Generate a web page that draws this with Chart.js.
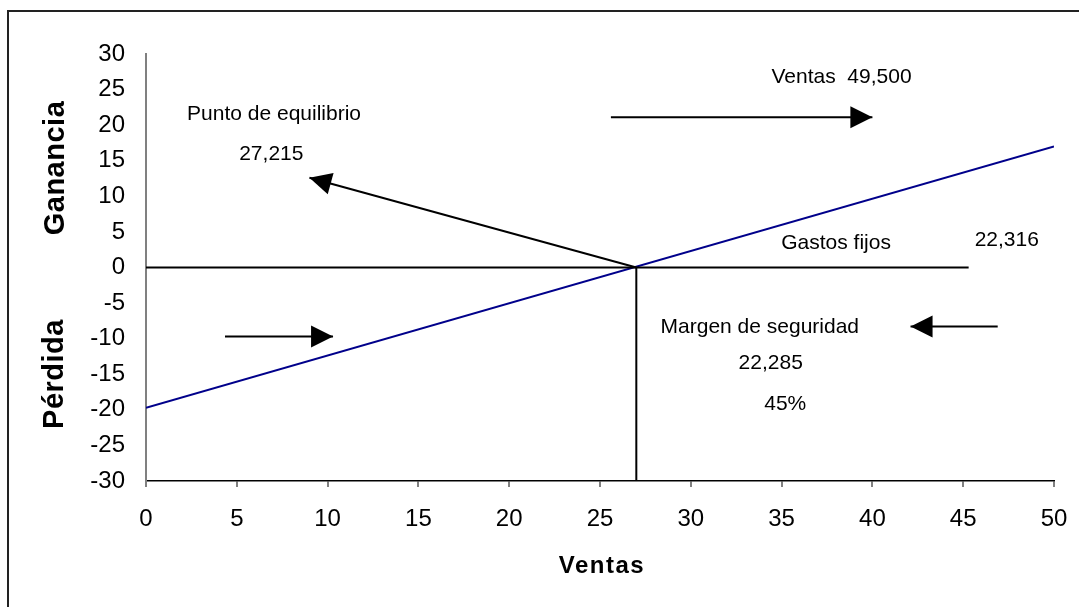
<!DOCTYPE html>
<html>
<head>
<meta charset="utf-8">
<script src="https://cdn.jsdelivr.net/npm/chart.js@4"></script>
<style>
  html, body { margin:0; padding:0; background:#fff; }
  #wrap { width:1079px; height:607px; position:relative; }
</style>
</head>
<body>
<div id="wrap"><canvas id="chart" width="1079" height="607"></canvas></div>
<script>
// datos
const ventasX = [0, 50];
const resultadoY = [-19.7, 17.0];
const fijosX = [0, 45.3];
const fijosY = [0, 0];
const equilibrioX = [27, 27];
const equilibrioY = [0, -30];

// flechas (inicio -> punta)
const flechaEquilibrioX = [27, 9.0];
const flechaEquilibrioY = [0, 12.6];
const flechaVentasX = [25.6, 40.0];
const flechaVentasY = [21.1, 21.1];
const flechaIzqX = [4.35, 10.3];
const flechaIzqY = [-9.7, -9.7];
const flechaDerX = [46.9, 42.1];
const flechaDerY = [-8.3, -8.3];

// textos
const notasTexto = ['Punto de equilibrio', '27,215', 'Ventas  49,500', 'Gastos fijos', '22,316',
                    'Margen de seguridad', '22,285', '45%'];
const notasX = [7.05, 6.9, 38.3, 38.0, 47.4, 33.8, 34.4, 35.2];
const notasY = [21.5, 15.9, 26.7, 3.4, 3.8, -8.4, -13.5, -19.2];

const yTicks = [30, 25, 20, 15, 10, 5, 0, -5, -10, -15, -20, -25, -30];
const xTicks = [0, 5, 10, 15, 20, 25, 30, 35, 40, 45, 50];

const FONT = "'Liberation Sans', Arial, sans-serif";

function pts(xs, ys){
    return xs.map((x,i)=>({x:x, y:ys[i]}))
}
function linea(xs, ys, color, flecha){
    return {
        data: pts(xs, ys),
        showLine: true,
        borderColor: color,
        backgroundColor: color,
        borderWidth: 2,
        pointRadius: 0,
        tension: 0,
        flecha: !!flecha
    }
}

const marco = {
    id: 'marco',
    afterDraw(chart){
        const c = chart.ctx
        c.save()
        c.strokeStyle = '#222'
        c.lineWidth = 2
        c.beginPath()
        c.moveTo(8, 607); c.lineTo(8, 11); c.lineTo(1079, 11)
        c.stroke()
        c.restore()
    }
}

const flechas = {
    id: 'flechas',
    afterDatasetsDraw(chart){
        const c = chart.ctx
        const sx = chart.scales.x, sy = chart.scales.y
        chart.data.datasets.forEach(ds=>{
            if(!ds.flecha) return
            const n = ds.data.length
            const a = ds.data[n-2], b = ds.data[n-1]
            const x0 = sx.getPixelForValue(a.x), y0 = sy.getPixelForValue(a.y)
            const x1 = sx.getPixelForValue(b.x), y1 = sy.getPixelForValue(b.y)
            const ang = Math.atan2(y1-y0, x1-x0)
            const len = 22, half = 11
            c.save()
            c.fillStyle = '#000'
            c.beginPath()
            c.moveTo(x1, y1)
            c.lineTo(x1 - len*Math.cos(ang) - half*Math.sin(ang), y1 - len*Math.sin(ang) + half*Math.cos(ang))
            c.lineTo(x1 - len*Math.cos(ang) + half*Math.sin(ang), y1 - len*Math.sin(ang) - half*Math.cos(ang))
            c.closePath()
            c.fill()
            c.restore()
        })
    }
}

const textos = {
    id: 'textos',
    afterDraw(chart){
        const c = chart.ctx
        const sx = chart.scales.x, sy = chart.scales.y
        c.save()
        c.fillStyle = '#000'
        c.textAlign = 'center'
        c.textBaseline = 'middle'
        c.font = '21px ' + FONT
        notasTexto.forEach((t,i)=>{
            c.fillText(t, sx.getPixelForValue(notasX[i]), sy.getPixelForValue(notasY[i]))
        })
        // titulos de ejes
        c.font = 'bold 24px ' + FONT
        c.letterSpacing = '1.5px'
        c.fillText('Ventas', 602, 566)
        c.font = 'bold 29px ' + FONT
        c.letterSpacing = '0.5px'
        c.translate(56, 168)
        c.rotate(-Math.PI/2)
        c.fillText('Ganancia', 0, 0)
        c.rotate(Math.PI/2)
        c.translate(-1, 206)
        c.rotate(-Math.PI/2)
        c.fillText('Pérdida', 0, 0)
        c.restore()
    }
}

const chart = new Chart(document.querySelector('#chart'), {
    type: 'scatter',
    data: {
        datasets: [
            linea(fijosX, fijosY, '#000'),
            linea(equilibrioX, equilibrioY, '#000'),
            linea(flechaEquilibrioX, flechaEquilibrioY, '#000', true),
            linea(flechaVentasX, flechaVentasY, '#000', true),
            linea(flechaIzqX, flechaIzqY, '#000', true),
            linea(flechaDerX, flechaDerY, '#000', true),
            linea(ventasX, resultadoY, '#00008b')
        ]
    },
    options: {
        responsive: false,
        animation: false,
        layout: { padding: { top: 54, right: 0, left: 0, bottom: 0 } },
        plugins: { legend: { display: false }, tooltip: { enabled: false } },
        scales: {
            x: {
                type: 'linear', min: 0, max: 50,
                afterFit(s){ s.height = 126; s.paddingRight = 25 },
                afterBuildTicks(s){ s.ticks = xTicks.map(v=>({value:v})) },
                border: { color: '#000', width: 1.5 },
                grid: { drawOnChartArea: false, drawTicks: true, tickLength: 6, color: '#808080', lineWidth: 2 },
                ticks: { color: '#000', padding: 18, font: { family: FONT, size: 24 }, maxRotation: 0 }
            },
            y: {
                type: 'linear', min: -30, max: 30,
                afterFit(s){ s.width = 146 },
                afterBuildTicks(s){ s.ticks = yTicks.map(v=>({value:v})) },
                border: { color: '#808080', width: 2 },
                grid: { display: false, drawTicks: false },
                ticks: { color: '#000', padding: 21, font: { family: FONT, size: 24 } }
            }
        }
    },
    plugins: [marco, flechas, textos]
})
</script>
</body>
</html>
